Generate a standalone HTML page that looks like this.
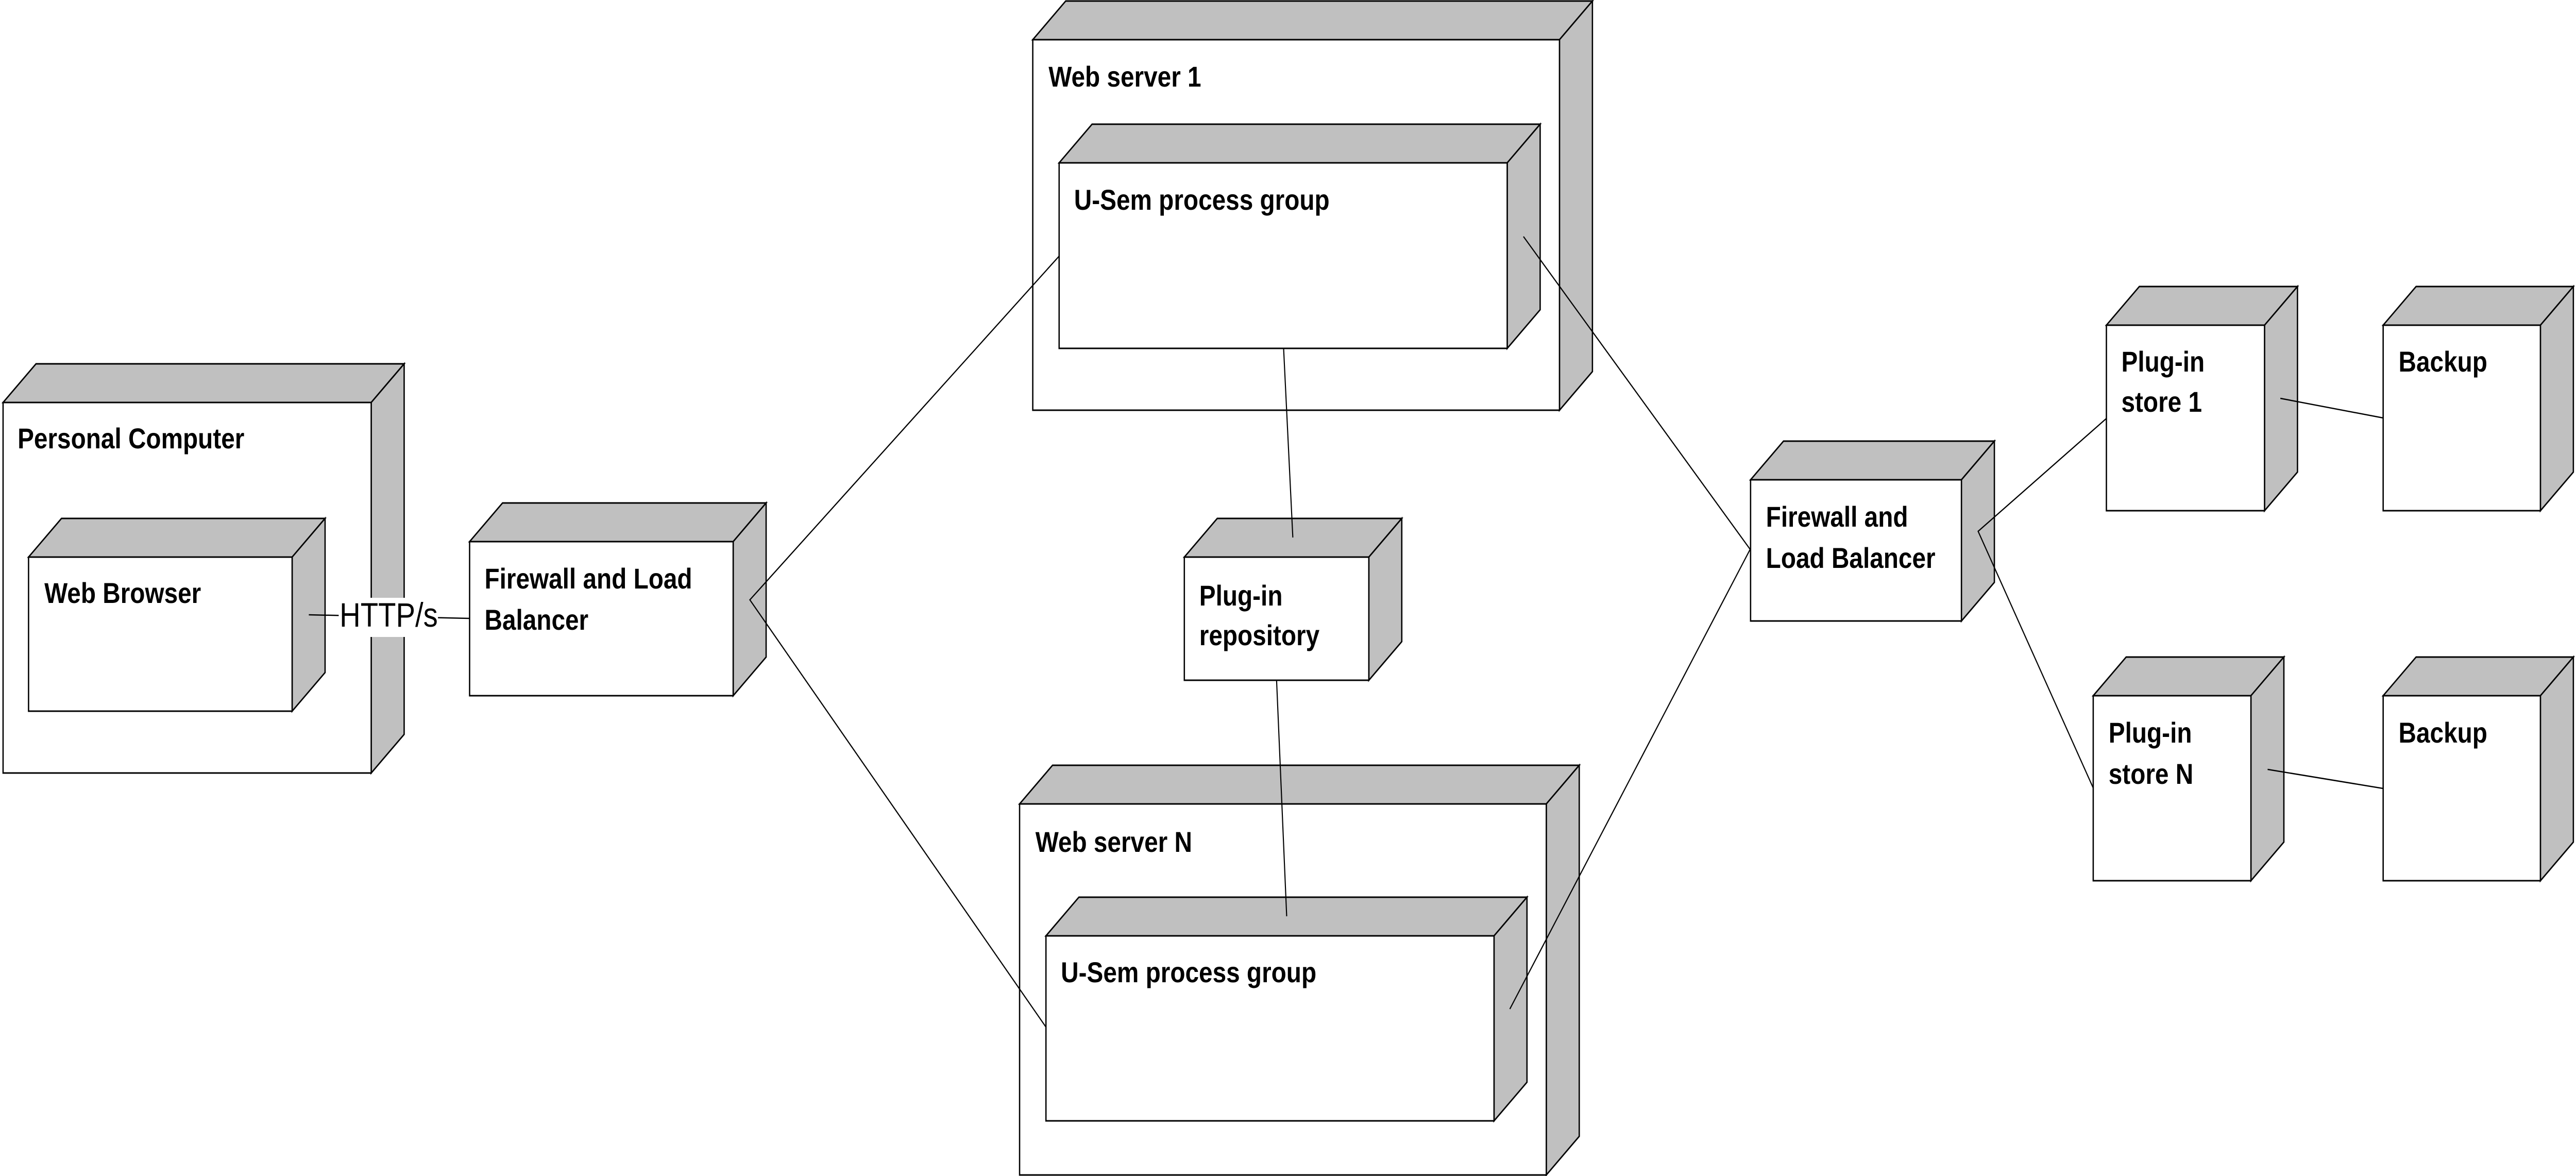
<!DOCTYPE html>
<html><head><meta charset="utf-8"><style>
html,body{margin:0;padding:0;background:#fff;width:100vw;height:100vh;overflow:hidden;}
svg{display:block;width:100vw;height:100vh;}
text{font-family:"Liberation Sans",sans-serif;font-weight:bold;font-size:56px;fill:#000;}
.f{fill:#fff;stroke:#000;stroke-width:3;}
.g{fill:#c0c0c0;stroke:#000;stroke-width:3;stroke-linejoin:miter;}
.c{stroke:#000;stroke-width:2.5;fill:none;}
</style></head><body>
<svg viewBox="0 0 5864 2282" preserveAspectRatio="none" xmlns="http://www.w3.org/2000/svg">
<!-- Personal Computer -->
<polygon class="g" points="7,781 82,706 920,706 845,781"/>
<polygon class="g" points="845,781 920,706 920,1425 845,1500"/>
<rect class="f" x="7" y="781" width="838" height="719"/>
<text x="40" y="870" font-size="57">Personal Computer</text>
<!-- Web Browser -->
<polygon class="g" points="65,1081 140,1006 740,1006 665,1081"/>
<polygon class="g" points="665,1081 740,1006 740,1305 665,1380"/>
<rect class="f" x="65" y="1081" width="600" height="299"/>
<text x="101" y="1170">Web Browser</text>
<!-- Firewall 1 -->
<polygon class="g" points="1069,1051 1144,976 1744,976 1669,1051"/>
<polygon class="g" points="1669,1051 1744,976 1744,1275 1669,1350"/>
<rect class="f" x="1069" y="1051" width="600" height="299"/>
<text x="1103" y="1142">Firewall and Load</text>
<text x="1103" y="1222">Balancer</text>
<!-- Web server 1 -->
<polygon class="g" points="2351,77 2426,2 3625,2 3550,77"/>
<polygon class="g" points="3550,77 3625,2 3625,721 3550,796"/>
<rect class="f" x="2351" y="77" width="1199" height="719"/>
<text x="2387" y="168">Web server 1</text>
<!-- U-Sem 1 -->
<polygon class="g" points="2411,316 2486,241 3506,241 3431,316"/>
<polygon class="g" points="3431,316 3506,241 3506,601 3431,676"/>
<rect class="f" x="2411" y="316" width="1020" height="360"/>
<text x="2445" y="407">U-Sem process group</text>
<!-- Plug-in repository -->
<polygon class="g" points="2696,1081 2771,1006 3191,1006 3116,1081"/>
<polygon class="g" points="3116,1081 3191,1006 3191,1245 3116,1320"/>
<rect class="f" x="2696" y="1081" width="420" height="239"/>
<text x="2730" y="1175">Plug-in</text>
<text x="2730" y="1252">repository</text>
<!-- Web server N -->
<polygon class="g" points="2321,1560 2396,1485 3595,1485 3520,1560"/>
<polygon class="g" points="3520,1560 3595,1485 3595,2205 3520,2280"/>
<rect class="f" x="2321" y="1560" width="1199" height="720"/>
<text x="2357" y="1653">Web server N</text>
<!-- U-Sem N -->
<polygon class="g" points="2381,1816 2456,1741 3476,1741 3401,1816"/>
<polygon class="g" points="3401,1816 3476,1741 3476,2100 3401,2175"/>
<rect class="f" x="2381" y="1816" width="1020" height="359"/>
<text x="2415" y="1906">U-Sem process group</text>
<!-- Firewall 2 -->
<polygon class="g" points="3985,931 4060,856 4540,856 4465,931"/>
<polygon class="g" points="4465,931 4540,856 4540,1130 4465,1205"/>
<rect class="f" x="3985" y="931" width="480" height="274"/>
<text x="4020" y="1022">Firewall and</text>
<text x="4020" y="1102">Load Balancer</text>
<!-- Plug-in store 1 -->
<polygon class="g" points="4795,631 4870,556 5230,556 5155,631"/>
<polygon class="g" points="5155,631 5230,556 5230,916 5155,991"/>
<rect class="f" x="4795" y="631" width="360" height="360"/>
<text x="4829" y="721">Plug-in</text>
<text x="4829" y="799">store 1</text>
<!-- Backup 1 -->
<polygon class="g" points="5425,631 5500,556 5858,556 5783,631"/>
<polygon class="g" points="5783,631 5858,556 5858,916 5783,991"/>
<rect class="f" x="5425" y="631" width="358" height="360"/>
<text x="5460" y="721">Backup</text>
<!-- Plug-in store N -->
<polygon class="g" points="4765,1350 4840,1275 5199,1275 5124,1350"/>
<polygon class="g" points="5124,1350 5199,1275 5199,1634 5124,1709"/>
<rect class="f" x="4765" y="1350" width="359" height="359"/>
<text x="4800" y="1441">Plug-in</text>
<text x="4800" y="1521">store N</text>
<!-- Backup N -->
<polygon class="g" points="5425,1350 5500,1275 5858,1275 5783,1350"/>
<polygon class="g" points="5783,1350 5858,1275 5858,1634 5783,1709"/>
<rect class="f" x="5425" y="1350" width="358" height="359"/>
<text x="5460" y="1441">Backup</text>
<!-- connectors -->
<line class="c" x1="703" y1="1193" x2="1069" y2="1200"/>
<polyline class="c" points="2411,497 1707,1164 2381,1993"/>
<line class="c" x1="2922" y1="676" x2="2943" y2="1043"/>
<line class="c" x1="2906" y1="1320" x2="2929" y2="1778"/>
<polyline class="c" points="3468,459 3984,1066 3437,1958"/>
<polyline class="c" points="4795,812 4503,1031 4765,1529"/>
<line class="c" x1="5191" y1="773" x2="5425" y2="811"/>
<line class="c" x1="5162" y1="1493" x2="5425" y2="1530"/>
<!-- HTTP/s label -->
<rect x="771" y="1160" width="226" height="76" fill="#fff"/>
<text x="773" y="1216" style="font-weight:normal;font-size:66px">HTTP/s</text>
</svg>
</body></html>
